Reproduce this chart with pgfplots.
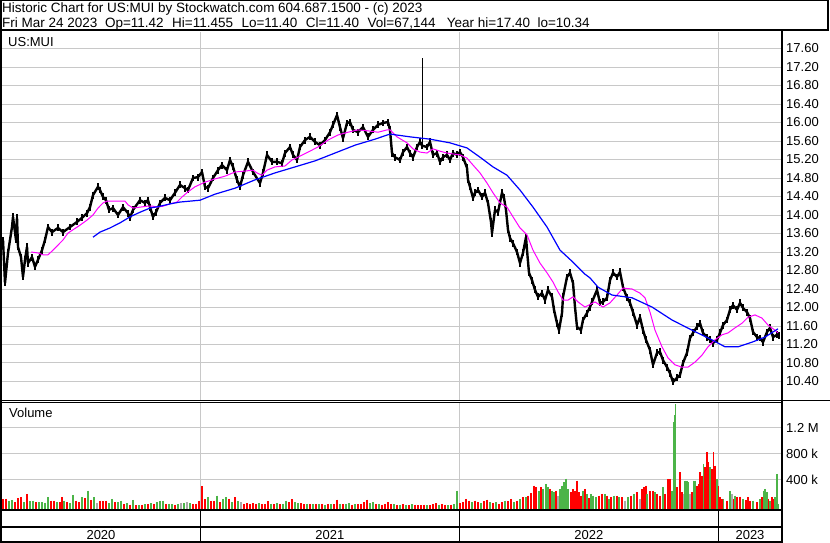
\documentclass[border=0pt]{standalone}
\usepackage{pgfplots}
\pgfplotsset{compat=1.18}
\usepackage{fontspec}
\setmainfont{Liberation Sans}
\definecolor{gridc}{RGB}{200,200,200}
\definecolor{vgreen}{RGB}{76,180,72}
\definecolor{vred}{RGB}{255,0,0}
\definecolor{vgray}{RGB}{170,170,170}
\definecolor{mag}{RGB}{255,0,255}
\definecolor{mablue}{RGB}{0,0,255}

\pgfplotsset{
  panel/.style={
    anchor=north west, scale only axis, width=779.5pt,
    xmin=2, xmax=781.5,
    axis line style={draw=none},
    xtick={200.3,459.3,718.3}, xticklabels={},
    xmajorgrids, ymajorgrids,
    grid style={gridc, line width=1pt},
    major tick length=0pt,
    yticklabel pos=right,
    yticklabel style={anchor=west, inner sep=0pt, xshift=4.5pt, font=\fontsize{13}{15}\selectfont},
  },
  vbar/.style={draw=none, mark=none, error bars/.cd, y dir=minus, y fixed=3000,
    error mark=none, error bar style={draw=#1, line width=1.9pt}},
}

\begin{document}
\fontsize{13}{15}\selectfont
\begin{tikzpicture}[x=1pt,y=1pt]
\path[use as bounding box] (0,0) rectangle (830,-543);

% price panel
\begin{axis}[panel, at={(2pt,-32pt)}, height=368pt,
  ymin=10.0, ymax=17.957,
  ytick={10.4,10.8,11.2,11.6,12.0,12.4,12.8,13.2,13.6,14.0,14.4,14.8,15.2,15.6,16.0,16.4,16.8,17.2,17.6},
  yticklabels={10.40,10.80,11.20,11.60,12.00,12.40,12.80,13.20,13.60,14.00,14.40,14.80,15.20,15.60,16.00,16.40,16.80,17.20,17.60},
]
\addplot[black, line width=2.4pt, line join=round,
  error bars/.cd, y dir=both, y fixed=0.075, error mark=none,
  error bar style={draw=black, line width=1.6pt}] coordinates {
(3,13.46) (5,12.53) (8,13.18) (12,13.74) (13,13.96) (16,13.46) (17,13.94) (18,13.31) (21,13.09) (23,12.66) (25,13.03) (27,13.31) (28,12.96) (32,13.09) (35,12.88) (38,13.03) (42,13.24) (45,13.46) (48,13.74) (52,13.63) (58,13.72) (63,13.63) (70,13.74) (77,13.85) (82,13.94) (87,14.04) (90,14.17) (93,14.43) (98,14.61) (100,14.54) (103,14.39) (106,14.32) (109,14.11) (113,14.15) (118,14.00) (123,14.17) (128,14.04) (130,13.94) (133,14.11) (140,14.32) (145,14.26) (148,14.32) (150,14.17) (153,13.96) (156,14.06) (160,14.26) (165,14.37) (170,14.32) (175,14.48) (180,14.65) (185,14.58) (188,14.54) (193,14.80) (198,14.82)
(202,14.93) (205,14.61) (208,14.58) (213,14.80) (218,14.97) (222,15.08) (227,14.97) (230,15.19) (233,15.04) (237,14.76) (240,14.61) (243,14.86) (248,15.15) (253,14.93) (260,14.69) (263,14.91) (267,15.30) (272,15.15) (277,15.15) (282,15.12) (285,15.34) (290,15.47) (293,15.30) (297,15.19) (300,15.47) (305,15.62) (310,15.69) (315,15.58) (320,15.51) (325,15.62) (330,15.79) (333,15.95) (337,16.16) (340,15.90) (343,15.66) (347,15.99) (350,16.01) (353,15.84) (358,15.79) (363,15.90) (368,15.69) (373,15.84) (378,15.95) (383,15.99) (388,16.01) (390,15.84)
(392,15.34) (395,15.25) (400,15.19) (403,15.36) (407,15.47) (410,15.34) (413,15.25) (417,15.47) (420,15.58) (422,15.50) (427,15.47) (430,15.58) (433,15.30) (437,15.34) (440,15.15) (443,15.25) (447,15.30) (450,15.19) (453,15.34) (457,15.30) (460,15.36) (463,15.25) (467,15.02) (468,14.76) (470,14.61) (473,14.37) (475,14.48) (478,14.54) (482,14.39) (485,14.48) (488,14.26) (491,13.85) (492,13.61) (495,14.11) (498,14.06) (502,14.48) (504,14.37) (506,14.11) (508,13.68) (510,13.50) (513,13.39) (517,13.20) (520,12.96) (523,13.18) (526,13.52) (527,13.24) (529,12.75) (532,12.59) (535,12.38) (538,12.23) (542,12.31) (545,12.16) (548,12.38) (552,12.23) (554,11.95) (557,11.66) (559,11.51) (562,11.88) (563,12.23) (567,12.66) (570,12.75) (573,12.53) (575,12.01) (577,11.58) (581,11.51) (583,11.73) (587,11.88) (590,12.01)
(592,12.12) (597,12.38) (600,12.10) (603,12.12) (607,12.21) (610,12.59) (613,12.75) (617,12.66) (620,12.77) (623,12.44) (627,12.21) (630,12.10) (633,11.90) (637,11.62) (640,11.79) (643,11.51) (646,11.30) (650,11.08) (653,10.76) (657,11.02) (660,11.04) (663,10.86) (667,10.71) (670,10.58) (673,10.39) (677,10.48) (680,10.54) (683,10.80) (687,11.02) (690,11.34) (693,11.45) (697,11.58) (700,11.66) (703,11.45) (707,11.36) (710,11.30) (713,11.23) (717,11.30) (720,11.45) (723,11.62) (727,11.73) (730,11.95) (733,12.05) (737,11.95) (740,12.10) (743,11.99) (747,11.90) (750,11.77) (753,11.47) (757,11.36) (760,11.34) (763,11.25) (767,11.47) (770,11.56) (773,11.36) (777,11.41) (779,11.40)
};
\addplot[black, line width=1pt] coordinates {(422,15.45) (422,17.40)};
\addplot[mag, line width=1pt] coordinates {
(31,13.20) (38,13.18) (43,13.14) (48,13.14) (53,13.24) (58,13.35) (63,13.46) (68,13.61) (73,13.68) (80,13.78) (87,13.89) (93,14.00) (98,14.15) (103,14.26) (107,14.30) (113,14.30) (125,14.30) (128,14.22) (133,14.15) (140,14.17) (147,14.19) (153,14.19) (157,14.17) (163,14.19) (170,14.24) (177,14.28) (182,14.39) (188,14.50) (195,14.61) (205,14.71) (215,14.78) (225,14.84) (235,14.93) (245,14.95) (253,14.97) (257,14.91) (262,14.86) (267,14.97) (275,15.04) (285,15.06) (292,15.19) (298,15.25) (308,15.36) (318,15.47) (328,15.62) (338,15.73) (348,15.79) (358,15.84) (368,15.82) (378,15.79) (387,15.84) (390,15.84) (397,15.69) (407,15.56) (413,15.43) (420,15.36) (427,15.34) (433,15.43) (440,15.38) (447,15.34) (453,15.32) (460,15.30) (467,15.23) (473,15.08) (480,14.91) (487,14.69) (493,14.48) (500,14.26) (507,14.17) (513,13.96) (520,13.72) (527,13.57) (533,13.24) (540,12.96) (547,12.75) (553,12.55) (558,12.34) (563,12.16) (568,12.16) (573,12.23) (578,12.12) (585,12.01) (595,12.12) (603,12.01) (610,12.10) (617,12.27) (623,12.42) (632,12.40) (640,12.31) (645,12.21) (650,11.90) (655,11.51) (662,11.15) (668,10.91) (675,10.76) (682,10.71) (688,10.71) (695,10.82) (702,10.97) (708,11.15) (715,11.30) (722,11.41) (728,11.45) (735,11.56) (742,11.66) (748,11.79) (755,11.84) (762,11.77) (768,11.62) (775,11.51) (778,11.45)
};
\addplot[mablue, line width=1.2pt] coordinates {
(93,13.52) (100,13.63) (110,13.72) (120,13.83) (130,13.96) (140,14.06) (150,14.15) (160,14.19) (170,14.24) (180,14.28) (190,14.30) (200,14.32) (215,14.45) (235,14.58) (255,14.76) (275,14.91) (295,15.04) (315,15.17) (335,15.34) (355,15.51) (375,15.64) (390,15.75) (410,15.69) (430,15.64) (450,15.56) (467,15.45) (480,15.25) (493,15.04) (507,14.86) (520,14.54) (533,14.17) (547,13.74) (560,13.24) (573,12.98) (585,12.72) (590,12.64) (598,12.44) (612,12.27) (632,12.21) (652,12.01) (672,11.73) (692,11.51) (712,11.30) (725,11.15) (738,11.15) (752,11.25) (765,11.36) (778,11.54)
};
\end{axis}

% volume panel
\begin{axis}[panel, at={(2pt,-402pt)}, height=107.5pt,
  ymin=-54, ymax=1600,
  ytick={400,800,1200}, yticklabels={400 k,800 k,1.2 M},
]
\addplot[vbar=vred] coordinates {
(3,108) (6,108) (15,56) (18,120) (21,133) (27,185) (36,56) (51,82) (54,82) (60,56) (62,133) (67,56) (76,82) (79,56) (85,120) (91,95) (100,82) (103,70) (106,82) (115,56) (124,31) (130,20) (136,15) (142,20) (148,25) (154,31) (166,31) (175,20) (193,25) (196,31) (199,82) (202,300) (205,100) (211,70) (214,82) (220,56) (229,108) (235,133) (244,31) (247,40) (250,31) (253,40) (256,31) (262,25) (265,31) (268,70) (274,25) (280,25) (289,56) (292,100) (301,40) (304,25) (310,31) (316,31) (322,31) (328,31) (334,25) (337,98) (343,25) (352,20) (358,25) (361,31) (364,56) (367,98) (376,31) (382,20) (385,31) (388,56) (391,31) (397,20) (403,25) (409,15) (415,20) (418,15)
(421,10) (424,20) (430,10) (433,25) (436,40) (442,31) (445,20) (451,20) (460,40) (463,56) (466,108) (469,82) (475,82) (478,56) (484,70) (487,98) (493,40) (499,31) (502,56) (508,70) (511,108) (517,82) (523,133) (528,159) (531,200) (534,313) (536,287) (541,287) (550,262) (556,236) (571,210) (573,262) (575,236) (577,390) (579,210) (581,159) (585,262) (589,120) (599,159) (602,185) (607,159) (611,133) (617,159) (622,133) (631,159) (637,210) (642,262) (644,287) (646,313) (650,236) (653,236) (657,185) (660,159) (665,185) (668,416) (670,416) (677,287) (680,518) (682,210) (692,210) (697,313) (698.5,339) (700,518) (702,467) (705,595) (707,826) (708.5,672) (712,570) (713.5,826) (715,621) (718.5,313) (720,133) (722,108) (727,82) (733.5,108) (737,133) (740,145) (746,90) (748,133) (750,82) (757,56) (762,133) (768.5,108) (772,133) (773.5,108)
};
\addplot[vbar=vgreen] coordinates {
(9,82) (12,95) (24,56) (30,70) (33,82) (39,60) (42,56) (45,50) (48,133) (57,56) (64,82) (70,40) (73,170) (82,133) (88,236) (94,133) (109,40) (112,108) (118,60) (121,82) (127,40) (133,95) (139,10) (145,30) (151,40) (157,56) (160,82) (163,82) (169,31) (172,25) (178,31) (184,45) (190,45) (208,133) (217,160) (223,108) (226,133) (232,56) (238,70) (259,40) (271,31) (277,40) (283,31) (286,82) (295,56) (298,40) (307,31) (313,25) (319,25) (325,20) (331,25) (340,31) (346,31) (349,40) (355,31) (370,40) (373,60) (379,25) (394,25) (400,20) (406,20) (412,25)
(427,15) (439,20) (448,10) (454,25) (457,236) (472,56) (481,40) (490,56) (496,56) (505,82) (514,56) (520,108) (526,133) (539,236) (543,262) (546,339) (548,287) (552,236) (554,210) (560,262) (562,313) (564,364) (566,422) (568,262) (583,236) (587,185) (591,185) (593,159) (596,133) (605,185) (609,100) (614,159) (619,133) (628,133) (634,185) (647,185) (655,210) (663,287) (672,236) (673.5,1288) (674.5,1400) (675.5,1570) (685,390) (687,390) (688.5,364) (693.5,390) (695,390) (703.5,647) (710,595) (717,416) (723.5,108) (730,236) (735,159) (743,108) (753,82) (760,108) (763.5,236) (765,262) (767,210) (770,82) (775,133) (777,493) (778.5,31)
};
\addplot[vbar=vgray] coordinates {
(97,40) (181,45) (187,56) (241,56) (558,159) (625,82) (640,108) (683.5,185) (690,185) (732,185)
};
\end{axis}

% frame lines
\draw[line width=1pt] (0,-0.5) -- (829,-0.5);
\draw[line width=2pt] (0,-30.5) -- (829,-30.5);
\draw[line width=2pt] (827.5,0) -- (827.5,-31.5);
\draw[line width=2pt] (1,0) -- (1,-543);
\draw[line width=2.2pt] (782,-30) -- (782,-543);
\draw[line width=1pt] (0,-400.5) -- (830,-400.5);
\draw[line width=1pt] (0,-402.5) -- (782,-402.5);
\draw[line width=2pt] (0,-510) -- (782,-510);
\draw[line width=2pt] (0,-526.8) -- (782,-526.8);
\draw[line width=2pt] (0,-541.8) -- (782,-541.8);
\foreach \xx in {200.3,459.3,718.3} \draw[line width=1pt] (\xx,-510) -- (\xx,-541.8);

% texts
\begingroup\fontsize{13.5}{15}\selectfont
\node[anchor=base west, inner sep=0pt] at (2,-12.7) {Historic Chart for US:MUI by Stockwatch.com 604.687.1500 - (c) 2023};
\node[anchor=base west, inner sep=0pt] at (2,-27.7) {Fri Mar 24 2023};
\node[anchor=base west, inner sep=0pt] at (104.8,-27.7) {Op=11.42};
\node[anchor=base west, inner sep=0pt] at (172,-27.7) {Hi=11.455};
\node[anchor=base west, inner sep=0pt] at (241.4,-27.7) {Lo=11.40};
\node[anchor=base west, inner sep=0pt] at (305.6,-27.7) {Cl=11.40};
\node[anchor=base west, inner sep=0pt] at (367.5,-27.7) {Vol=67,144};
\node[anchor=base west, inner sep=0pt] at (446.7,-27.7) {Year hi=17.40};
\node[anchor=base west, inner sep=0pt] at (537.3,-27.7) {lo=10.34};
\endgroup
\node[anchor=base west, inner sep=0pt] at (8,-46.5) {US:MUI};
\node[anchor=base west, inner sep=0pt] at (9,-417.5) {Volume};
\node[anchor=base, inner sep=0pt] at (101,-539.8) {2020};
\node[anchor=base, inner sep=0pt] at (329.8,-539.8) {2021};
\node[anchor=base, inner sep=0pt] at (588.8,-539.8) {2022};
\node[anchor=base, inner sep=0pt] at (750,-539.8) {2023};
\end{tikzpicture}
\end{document}
